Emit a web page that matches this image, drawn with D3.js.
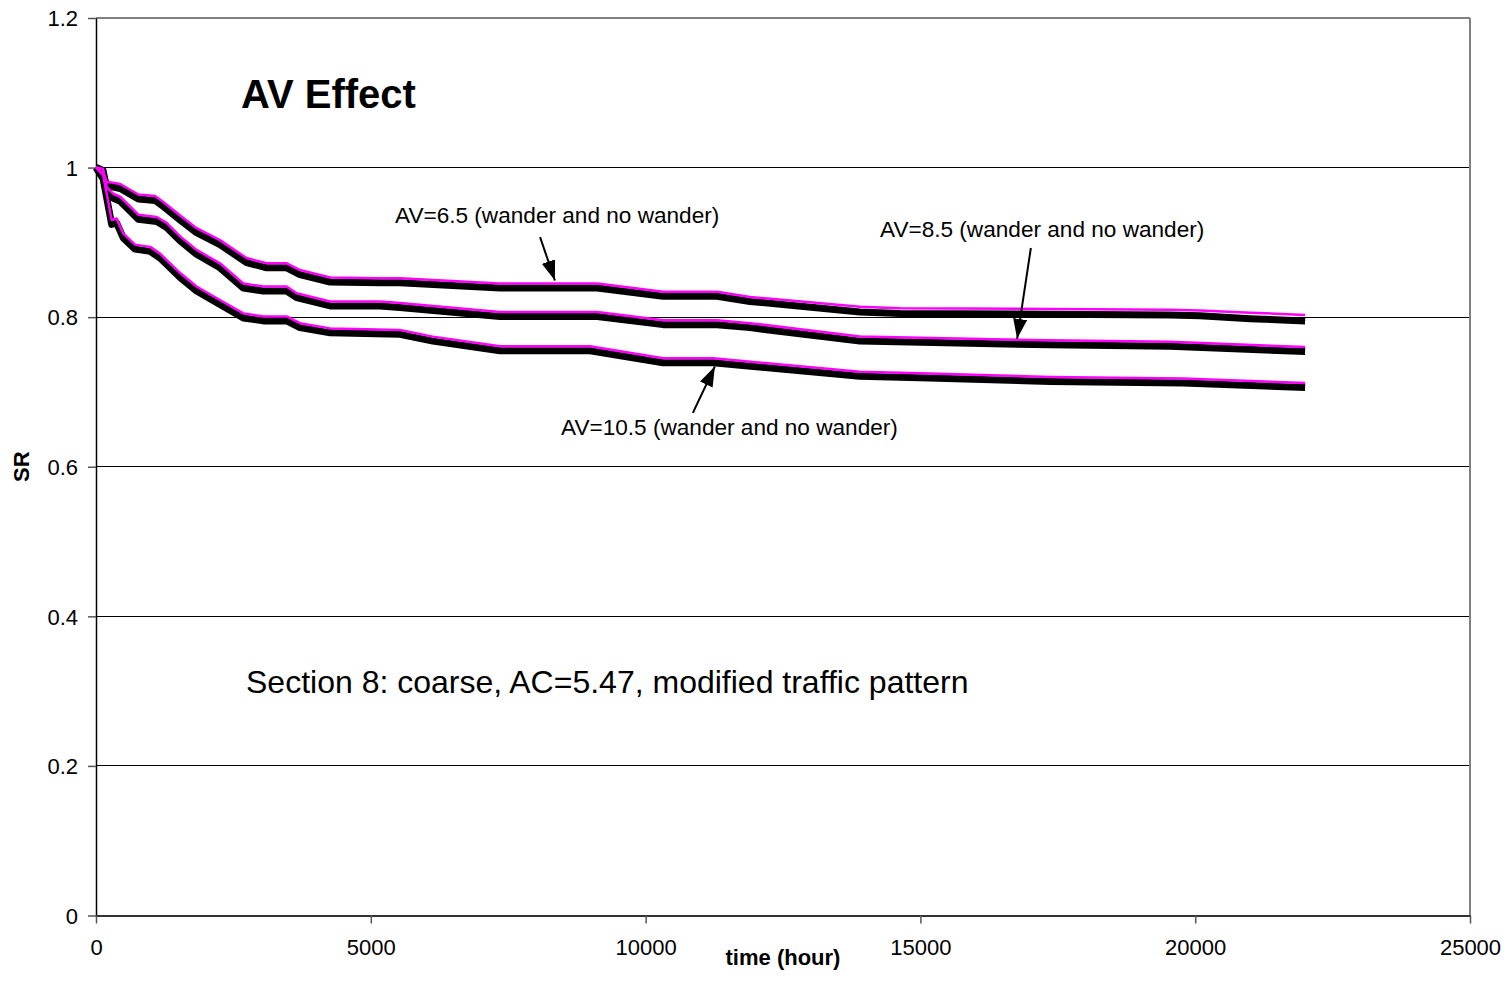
<!DOCTYPE html>
<html>
<head>
<meta charset="utf-8">
<script src="https://cdn.jsdelivr.net/npm/d3@7"></script>
<style>
  html, body { margin: 0; padding: 0; background: #fff; }
  text { font-family: "Liberation Sans", Arial, sans-serif; fill: #000; }
</style>
</head>
<body>
<svg id="chart" width="1508" height="1005"></svg>
<script>
// ---- data ----
const xTicks = [0, 5000, 10000, 15000, 20000, 25000];
const yTicks = [0, 0.2, 0.4, 0.6, 0.8, 1, 1.2];
const yTickLabels = ["0", "0.2", "0.4", "0.6", "0.8", "1", "1.2"];

const timeAV65 = [0, 110, 195, 440, 770, 1075, 1225, 1530, 1830, 2255, 2740, 3105, 3470, 3710, 4260, 5170, 5530, 7350, 9120, 10320, 11300, 11900, 13900, 14630, 17360, 19540, 20090, 21000, 22000];
const srAV65Wander   = [1.000, 0.998, 0.981, 0.978, 0.964, 0.962, 0.954, 0.936, 0.919, 0.903, 0.879, 0.872, 0.872, 0.863, 0.853, 0.852, 0.852, 0.845, 0.845, 0.834, 0.834, 0.827, 0.814, 0.812, 0.811, 0.810, 0.809, 0.806, 0.803];
const srAV65NoWander = [1.000, 0.996, 0.976, 0.972, 0.958, 0.956, 0.948, 0.930, 0.913, 0.897, 0.873, 0.866, 0.866, 0.857, 0.847, 0.846, 0.846, 0.839, 0.839, 0.828, 0.828, 0.821, 0.807, 0.805, 0.804, 0.803, 0.802, 0.798, 0.795];

const timeAV85 = [0, 130, 195, 315, 440, 770, 1105, 1285, 1530, 1830, 2255, 2680, 3045, 3470, 3650, 4260, 5170, 5530, 7350, 9120, 10320, 11300, 11900, 13900, 17360, 19540, 22000];
const srAV85Wander   = [1.000, 0.998, 0.974, 0.965, 0.961, 0.937, 0.934, 0.926, 0.908, 0.890, 0.872, 0.845, 0.841, 0.841, 0.832, 0.821, 0.821, 0.819, 0.807, 0.807, 0.796, 0.796, 0.792, 0.774, 0.769, 0.767, 0.760];
const srAV85NoWander = [1.000, 0.996, 0.969, 0.959, 0.955, 0.931, 0.928, 0.920, 0.902, 0.884, 0.866, 0.839, 0.835, 0.835, 0.826, 0.815, 0.815, 0.813, 0.801, 0.801, 0.790, 0.790, 0.786, 0.768, 0.763, 0.761, 0.754];

const timeAV105 = [0, 130, 285, 375, 495, 710, 985, 1165, 1530, 1830, 2255, 2680, 3045, 3470, 3710, 4260, 5530, 6130, 7350, 8990, 10320, 11230, 13900, 14990, 17360, 19780, 22000];
const srAV105Wander   = [1.000, 0.990, 0.930, 0.932, 0.912, 0.897, 0.894, 0.885, 0.859, 0.841, 0.823, 0.805, 0.801, 0.801, 0.792, 0.785, 0.783, 0.774, 0.761, 0.761, 0.745, 0.745, 0.727, 0.725, 0.720, 0.718, 0.712];
const srAV105NoWander = [1.000, 0.985, 0.924, 0.926, 0.906, 0.891, 0.888, 0.879, 0.853, 0.835, 0.817, 0.799, 0.795, 0.795, 0.786, 0.779, 0.777, 0.768, 0.755, 0.755, 0.739, 0.739, 0.721, 0.719, 0.714, 0.712, 0.706];

const annotationTexts = ["AV=6.5 (wander and no wander)", "AV=8.5 (wander and no wander)", "AV=10.5 (wander and no wander)"];
// arrow start / tip in data units [time, SR]
const arrowFrom = [[8080, 0.907], [17010, 0.8925], [10860, 0.672]];
const arrowTo   = [[8350, 0.849], [16760, 0.771], [11260, 0.734]];

const titleText = "AV Effect";
const noteText = "Section 8: coarse, AC=5.47, modified traffic pattern";
const xTitle = "time (hour)";
const yTitle = "SR";

// ---- layout ----
const svg = d3.select("#chart");
const L = 96, T = 18, R = 1470, B = 915.5;
const x = d3.scaleLinear().domain([0, 25000]).range([L, R]);
const y = d3.scaleLinear().domain([0, 1.2]).range([B, T]);

// gridlines
svg.append("g").selectAll("line").data(yTicks.filter(v => v > 0 && v < 1.2)).join("line")
  .attr("x1", L).attr("x2", R).attr("y1", d => y(d)).attr("y2", d => y(d))
  .attr("stroke", "#000").attr("stroke-width", 1).attr("shape-rendering", "crispEdges");

// border top/right
svg.append("line").attr("x1", L).attr("x2", R).attr("y1", T).attr("y2", T)
  .attr("stroke", "#808080").attr("stroke-width", 1.5).attr("shape-rendering", "crispEdges");
svg.append("line").attr("x1", R).attr("x2", R).attr("y1", T).attr("y2", B)
  .attr("stroke", "#808080").attr("stroke-width", 1.5).attr("shape-rendering", "crispEdges");

// axes
const yAxis = d3.axisLeft(y).tickValues(yTicks).tickSize(8).tickSizeOuter(0)
  .tickFormat((d, i) => yTickLabels[i]);
const gy = svg.append("g").attr("transform", `translate(${L},0)`).call(yAxis);
gy.select(".domain").attr("stroke", "#000").attr("stroke-width", 1.5);
gy.selectAll(".tick line").attr("stroke", "#555").attr("stroke-width", 1.5);
gy.selectAll(".tick text").attr("x", -18).attr("dy", "0.35em")
  .style("font-family", '"Liberation Sans", Arial, sans-serif').style("font-size", "22px").attr("fill", "#000");

const xAxis = d3.axisBottom(x).tickValues(xTicks).tickSize(8).tickSizeOuter(0).tickFormat(d3.format("d"));
const gx = svg.append("g").attr("transform", `translate(0,${B})`).call(xAxis);
gx.select(".domain").attr("stroke", "#333").attr("stroke-width", 2);
gx.selectAll(".tick line").attr("stroke", "#555").attr("stroke-width", 1.5);
gx.selectAll(".tick text").attr("y", 24).attr("dy", "0.71em")
  .style("font-family", '"Liberation Sans", Arial, sans-serif').style("font-size", "22px").attr("fill", "#000");

// lines
const series = [
  { t: timeAV65, black: srAV65NoWander, pink: srAV65Wander },
  { t: timeAV85, black: srAV85NoWander, pink: srAV85Wander },
  { t: timeAV105, black: srAV105NoWander, pink: srAV105Wander }
];
const line = d3.line().x(d => x(d[0])).y(d => y(d[1]));
const gl = svg.append("g");
series.forEach(s => {
  gl.append("path").datum(s.t.map((t, i) => [t, s.black[i]]))
    .attr("d", line).attr("fill", "none").attr("stroke", "#000")
    .attr("stroke-width", 7).attr("stroke-linejoin", "round").attr("stroke-linecap", "butt");
});
series.forEach(s => {
  gl.append("path").datum(s.t.map((t, i) => [t, s.pink[i]]))
    .attr("d", line).attr("fill", "none").attr("stroke", "#ff00ff")
    .attr("stroke-width", 2.5).attr("stroke-linejoin", "round").attr("stroke-linecap", "butt");
});

// arrows
svg.append("defs").append("marker")
  .attr("id", "arrow").attr("viewBox", "0 0 20 14").attr("refX", 20).attr("refY", 7)
  .attr("markerWidth", 20).attr("markerHeight", 14).attr("markerUnits", "userSpaceOnUse")
  .attr("orient", "auto")
  .append("path").attr("d", "M0,0 L20,7 L0,14 Z").attr("fill", "#000");

arrowFrom.forEach((a, i) => {
  svg.append("line")
    .attr("x1", x(a[0])).attr("y1", y(a[1]))
    .attr("x2", x(arrowTo[i][0])).attr("y2", y(arrowTo[i][1]))
    .attr("stroke", "#000").attr("stroke-width", 2).attr("marker-end", "url(#arrow)");
});

// annotation labels
const labelPos = [[395, 223], [880, 237], [561, 435]];
annotationTexts.forEach((txt, i) => {
  svg.append("text").attr("x", labelPos[i][0]).attr("y", labelPos[i][1])
    .style("font-size", "22.6px").text(txt);
});

// title & note
svg.append("text").attr("x", 241).attr("y", 108).style("font-size", "40px")
  .style("font-weight", "bold").text(titleText);
svg.append("text").attr("x", 246).attr("y", 693).style("font-size", "32px").text(noteText);

// axis titles
svg.append("text").attr("x", (L + R) / 2).attr("y", 965).attr("text-anchor", "middle")
  .style("font-size", "22px").style("font-weight", "bold").text(xTitle);
svg.append("text").attr("transform", `translate(29,${(T + B) / 2}) rotate(-90)`)
  .attr("text-anchor", "middle").style("font-size", "22px").style("font-weight", "bold").text(yTitle);
</script>
</body>
</html>
